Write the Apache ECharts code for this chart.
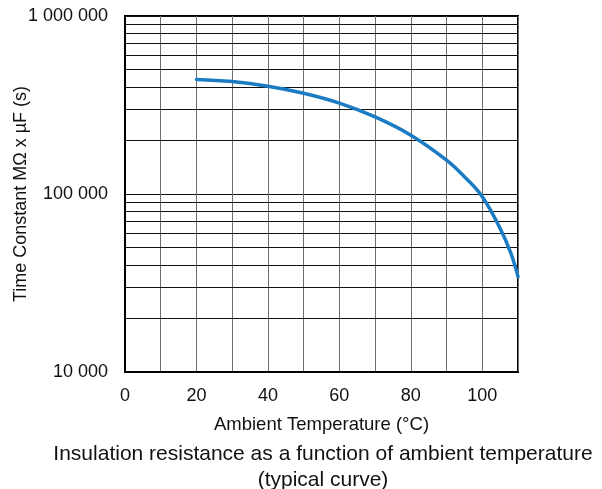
<!DOCTYPE html>
<html>
<head>
<meta charset="utf-8">
<script src="https://cdn.jsdelivr.net/npm/echarts@6/dist/echarts.min.js"></script>
<style>html,body{margin:0;padding:0;background:#fff}#c{width:602px;height:489px}</style>
</head>
<body>
<div id="c"></div>
<script>
var temperatures = [20, 30, 40, 50, 60, 70, 80, 90, 95, 100, 105, 108, 110];
var timeConstant = [440000, 428000, 403000, 368000, 324000, 271000, 214000, 155000, 125000, 96600, 64000, 46500, 34300];
var minorGridValues = [20000, 30000, 40000, 50000, 60000, 70000, 80000, 90000,
                       200000, 300000, 400000, 500000, 600000, 700000, 800000, 900000];
var xLabelValues = [0, 20, 40, 60, 80, 100];
var titleText = 'Insulation resistance as a function of ambient temperature\n(typical curve)';
var xName = 'Ambient Temperature (°C)';
var yName = 'Time Constant MΩ x µF (s)';

var font = 'Liberation Sans, Arial, Helvetica, sans-serif';
var chart = echarts.init(document.getElementById('c'));
chart.setOption({
  animation: false,
  textStyle: {fontFamily: font},
  title: {
    text: titleText,
    left: 323, top: 441, textAlign: 'center', padding: 0,
    textStyle: {fontFamily: font, fontSize: 21, fontWeight: 'normal', color: '#111', lineHeight: 26}
  },
  grid: {left: 125, right: 84, top: 16, bottom: 117, show: true, borderColor: '#000', borderWidth: 2,
         backgroundColor: 'transparent', containLabel: false, outerBoundsMode: 'none'},
  xAxis: {
    type: 'value', min: 0, max: 110, interval: 10,
    name: xName, nameLocation: 'middle', nameGap: 43, nameMoveOverlap: false,
    nameTextStyle: {fontSize: 18.5, color: '#111', fontFamily: font},
    axisLine: {show: true, lineStyle: {color: '#000', width: 2}},
    axisTick: {show: false},
    axisLabel: {
      margin: 15, fontSize: 18, color: '#111', fontFamily: font,
      formatter: function (v) { return xLabelValues.indexOf(v) >= 0 ? String(v) : ''; }
    },
    splitLine: {show: true, lineStyle: {color: '#6e6e6e', width: 1}}
  },
  yAxis: {
    type: 'log', logBase: 10, min: 10000, max: 1000000,
    name: yName, nameLocation: 'middle', nameGap: 95, nameMoveOverlap: false,
    nameTextStyle: {fontSize: 18, color: '#111', fontFamily: font},
    axisLine: {show: true, lineStyle: {color: '#000', width: 2}},
    axisTick: {show: false},
    axisLabel: {
      margin: 17, fontSize: 18, color: '#111', fontFamily: font,
      formatter: function (v) { return String(Math.round(v)).replace(/\B(?=(\d{3})+(?!\d))/g, ' '); }
    },
    splitLine: {show: true, lineStyle: {color: '#111', width: 1}}
  },
  series: [{
    type: 'line',
    data: temperatures.map(function (t, i) { return [t, timeConstant[i]]; }),
    smooth: 0.4,
    showSymbol: false,
    lineStyle: {color: '#1b7cc3', width: 3.5, cap: 'round'},
    z: 5,
    markLine: {
      silent: true, symbol: 'none', animation: false,
      label: {show: false},
      lineStyle: {color: '#111', width: 1, type: 'solid'},
      data: minorGridValues.map(function (v) { return {yAxis: v}; }),
      z: 1
    }
  }]
});
</script>
</body>
</html>
